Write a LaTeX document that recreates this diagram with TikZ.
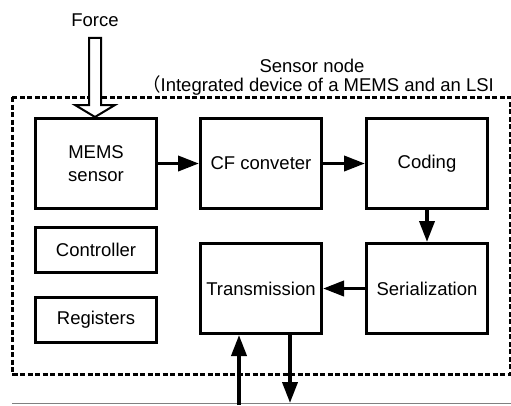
\documentclass[tikz,border=0pt]{standalone}
\usepackage{fontspec}
\setmainfont{Liberation Sans}
\newfontfamily\cjkfont{Noto Sans CJK JP}
\usetikzlibrary{arrows.meta,positioning,calc}

\begin{document}
\begin{tikzpicture}[x=1pt,y=-1pt,
  font=\fontsize{18.5}{23}\selectfont,
  blk/.style={draw,line width=3pt,minimum width=121pt,minimum height=90pt,align=center,inner sep=2pt},
  small/.style={blk,minimum height=45pt},
  ar/.style={-{Triangle[length=21pt,width=15pt]},line width=3.8pt},
  frame/.style={line width=3pt,dash pattern=on 5pt off 2.5pt},
  hollow/.style={draw,line width=2pt,fill=white,line join=miter}]
  \useasboundingbox (0,0) rectangle (511,405);
  % sensor node frame
  \draw[frame] (12,97) rectangle (510,374);
  \node (title) at (312,66) {Sensor node};
  \node (sub) at (318,85) {{\cjkfont （}Integrated device of a MEMS and an LSI};
  % signal chain
  \node[blk] (mems) at (96,163.5) {MEMS\\sensor};
  \node[blk,right=41pt of mems] (cf) {CF conveter};
  \node[blk,right=42pt of cf] (cod) {Coding};
  \node[blk,below=32pt of cod] (ser) {Serialization};
  \node[blk,left=42pt of ser] (trans) {Transmission};
  \node[small,below=16pt of mems] (ctrl) {Controller};
  \node[small,below=22pt of ctrl] (reg) {Registers};
  \draw[ar] (mems)--(cf); \draw[ar] (cf)--(cod);
  \draw[ar] (cod)--(ser); \draw[ar] (ser)--(trans);
  % force input
  \node (force) at (95,20) {Force};
  \draw[hollow] let \p1=(force.south), \p2=(mems.north) in
    (\x1-6pt,\y1-8pt) -- (\x1-6pt,\y2+12pt) -- (\x1-20pt,\y2+12pt) -- (\x1,\y2)
    -- (\x1+20pt,\y2+12pt) -- (\x1+6pt,\y2+12pt) -- (\x1+6pt,\y1-8pt) -- cycle;
  % bus
  \draw[gray,line width=1pt] (12,403) -- (511,403);
  \coordinate (busin) at (239,405);
  \coordinate (busout) at (290,403);
  \draw[ar] (busin) -- (busin|-trans.south);
  \draw[ar] (busout|-trans.south) -- (busout);
\end{tikzpicture}
\end{document}
